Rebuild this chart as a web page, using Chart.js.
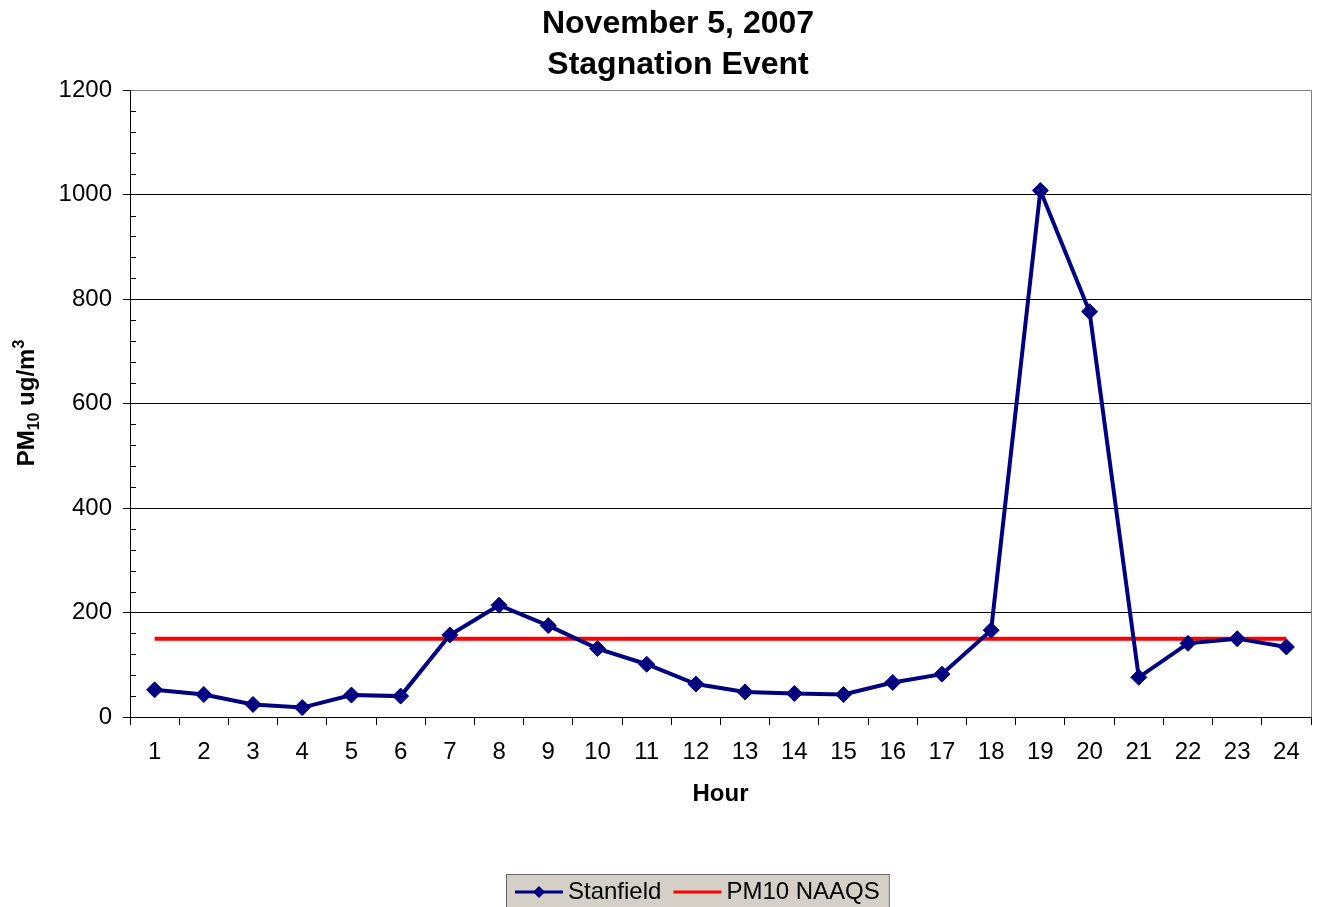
<!DOCTYPE html>
<html>
<head>
<meta charset="utf-8">
<script src="https://cdn.jsdelivr.net/npm/chart.js@4.4.0/dist/chart.umd.min.js"></script>
<style>
  html, body { margin: 0; padding: 0; background: #ffffff; }
  #wrap { width: 1317px; height: 907px; position: relative; }
</style>
</head>
<body>
<div id="wrap"><canvas id="chart"></canvas></div>
<script>
// Chart data
const hours = ['1', '2', '3', '4', '5', '6', '7', '8', '9', '10', '11', '12',
               '13', '14', '15', '16', '17', '18', '19', '20', '21', '22', '23', '24'];
const stanfield = [52, 43, 24, 18, 42, 40, 157, 214, 175, 131, 101, 63,
                   48, 45, 43, 66, 82, 166, 1008, 776, 76, 141, 150, 134];
const naaqs = [150, 150, 150, 150, 150, 150, 150, 150, 150, 150, 150, 150,
               150, 150, 150, 150, 150, 150, 150, 150, 150, 150, 150, 150];
const seriesNames = ['Stanfield', 'PM10 NAAQS'];

// Axis config
const yMin = 0;
const yMax = 1200;
const yMajorStep = 200;
const yMinorStep = 40;

// Texts
const titleLines = ['November 5, 2007', 'Stagnation Event'];
const xTitle = 'Hour';
// y title with subscript / superscript parts
const yTitleParts = [['PM', 'base'], ['10', 'sub'], [' ug/m', 'base'], ['3', 'sup']];

const FONT = '"Liberation Sans", Arial, Helvetica, sans-serif';
const NAVY = '#000080';
const RED = '#ff0000';

Chart.defaults.font.family = FONT;
Chart.defaults.color = '#000';

// Minor ticks on the y axis (inside the plot) and the grey right border
const frameDecor = {
    id: 'frameDecor',
    beforeDatasetsDraw(chart) {
        const ctx = chart.ctx;
        const area = chart.chartArea;
        const y = chart.scales.y;
        ctx.save();
        ctx.strokeStyle = '#000';
        ctx.lineWidth = 1;
        for (let v = yMin + yMinorStep; v < yMax; v += yMinorStep) {
            if (v % yMajorStep === 0) continue;
            const py = Math.round(y.getPixelForValue(v)) + 0.5;
            ctx.beginPath();
            ctx.moveTo(area.left, py);
            ctx.lineTo(area.left + 6, py);
            ctx.stroke();
        }
        ctx.strokeStyle = '#808080';
        ctx.beginPath();
        ctx.moveTo(Math.round(area.right) + 0.5, area.top);
        ctx.lineTo(Math.round(area.right) + 0.5, area.bottom);
        ctx.stroke();
        ctx.restore();
    }
};

// Rotated y-axis title with PM sub 10 and m sup 3
const yAxisTitle = {
    id: 'yAxisTitle',
    afterDraw(chart) {
        const ctx = chart.ctx;
        const baseFont = 'bold 24px ' + FONT;
        const smallFont = 'bold 16px ' + FONT;
        ctx.save();
        let total = 0;
        yTitleParts.forEach(([txt, kind]) => {
            ctx.font = kind === 'base' ? baseFont : smallFont;
            total += ctx.measureText(txt).width;
        });
        ctx.translate(34, 403);
        ctx.rotate(-Math.PI / 2);
        ctx.fillStyle = '#000';
        ctx.textBaseline = 'alphabetic';
        ctx.textAlign = 'left';
        let x = -total / 2;
        yTitleParts.forEach(([txt, kind]) => {
            ctx.font = kind === 'base' ? baseFont : smallFont;
            const dy = kind === 'sub' ? 5 : (kind === 'sup' ? -10 : 0);
            ctx.fillText(txt, x, dy);
            x += ctx.measureText(txt).width;
        });
        ctx.restore();
    }
};

// Legend box in Excel style: grey background, line + marker samples
const boxLegend = {
    id: 'boxLegend',
    afterDraw(chart) {
        const ctx = chart.ctx;
        const sets = chart.data.datasets;
        const cy = 892;
        const centerX = 697;
        const sample = 48;
        ctx.save();
        ctx.font = '24px ' + FONT;
        let width = 9;
        sets.forEach((ds, i) => {
            width += sample + 5 + ctx.measureText(ds.label).width;
            width += i < sets.length - 1 ? 12 : 9;
        });
        const left = Math.round(centerX - width / 2);
        ctx.fillStyle = '#d4d0c8';
        ctx.fillRect(left, 874, width, 40);
        ctx.strokeStyle = '#666';
        ctx.lineWidth = 1;
        ctx.strokeRect(left + 0.5, 874.5, width, 40);

        let x = left + 9;
        sets.forEach((ds, i) => {
            ctx.strokeStyle = ds.borderColor;
            ctx.lineWidth = 3;
            ctx.beginPath();
            ctx.moveTo(x, cy);
            ctx.lineTo(x + sample, cy);
            ctx.stroke();
            if (ds.pointRadius > 0) {
                const r = 6;
                const mx = x + sample / 2;
                ctx.fillStyle = ds.pointBackgroundColor;
                ctx.beginPath();
                ctx.moveTo(mx, cy - r);
                ctx.lineTo(mx + r, cy);
                ctx.lineTo(mx, cy + r);
                ctx.lineTo(mx - r, cy);
                ctx.closePath();
                ctx.fill();
            }
            x += sample + 5;
            ctx.fillStyle = '#000';
            ctx.textBaseline = 'middle';
            ctx.textAlign = 'left';
            ctx.fillText(ds.label, x, cy);
            x += ctx.measureText(ds.label).width + 12;
        });
        ctx.restore();
    }
};

new Chart(document.getElementById('chart'), {
    type: 'line',
    data: {
        labels: hours,
        datasets: [{
            label: seriesNames[0],
            data: stanfield,
            borderColor: NAVY,
            backgroundColor: NAVY,
            borderWidth: 4,
            tension: 0,
            pointStyle: 'rectRot',
            pointRadius: 8,
            pointBorderWidth: 1,
            pointBackgroundColor: NAVY,
            pointBorderColor: NAVY
        }, {
            label: seriesNames[1],
            data: naaqs,
            borderColor: RED,
            backgroundColor: RED,
            borderWidth: 4,
            tension: 0,
            pointRadius: 0
        }]
    },
    options: {
        responsive: true,
        maintainAspectRatio: false,
        animation: false,
        layout: {
            autoPadding: false,
            padding: { left: 45, right: 6, top: 2, bottom: 98 }
        },
        plugins: {
            legend: { display: false },
            tooltip: { enabled: false },
            title: {
                display: true,
                text: titleLines,
                color: '#000',
                font: { size: 32, weight: 'bold', lineHeight: 1.3 },
                padding: { top: 1, bottom: 4 }
            }
        },
        scales: {
            x: {
                offset: true,
                grid: {
                    display: true,
                    drawOnChartArea: false,
                    offset: true,
                    tickLength: 8,
                    color: '#000'
                },
                border: { display: true, color: '#000', width: 1 },
                ticks: {
                    color: '#000',
                    font: { size: 24 },
                    padding: 13,
                    maxRotation: 0,
                    autoSkip: false
                },
                title: {
                    display: true,
                    text: xTitle,
                    color: '#000',
                    font: { size: 24, weight: 'bold' },
                    padding: 0
                },
                afterFit: scale => {
                    scale.height = 92;
                    scale.paddingLeft = 0;
                    scale.paddingRight = 0;
                }
            },
            y: {
                min: yMin,
                max: yMax,
                grid: {
                    color: ctx => (ctx.tick && ctx.tick.value === yMax) ? '#808080' : '#000',
                    tickColor: '#000',
                    tickLength: 7
                },
                border: { display: true, color: '#000', width: 1 },
                ticks: {
                    stepSize: yMajorStep,
                    color: '#000',
                    font: { size: 24 },
                    padding: 11,
                    callback: value => String(value)
                },
                afterFit: scale => { scale.width = 85; }
            }
        }
    },
    plugins: [frameDecor, yAxisTitle, boxLegend]
});
</script>
</body>
</html>
